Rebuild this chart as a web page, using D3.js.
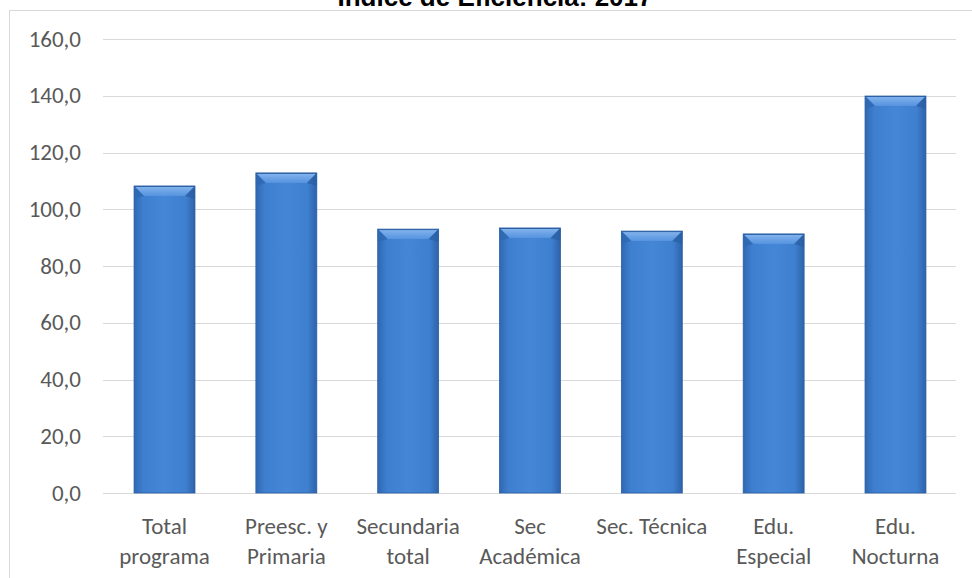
<!DOCTYPE html>
<html><head><meta charset="utf-8">
<script src="https://cdn.jsdelivr.net/npm/d3@7"></script>
<style>body{margin:0;background:#fff}svg{display:block}</style>
</head><body>
<script>
const categories = [["Total","programa"],["Preesc. y","Primaria"],["Secundaria","total"],["Sec","Académica"],["Sec. Técnica"],["Edu.","Especial"],["Edu.","Nocturna"]];
const values = [108.2, 112.8, 93.0, 93.4, 92.3, 91.3, 139.9];
const yTicks = [0,20,40,60,80,100,120,140,160];
const title = "Índice de Eficiencia: 2017";

const W=972,H=578;
const svg=d3.select("body").append("svg").attr("width",W).attr("height",H);
const defs=svg.append("defs");
const g1=defs.append("linearGradient").attr("id","side").attr("x1","0").attr("x2","1").attr("y1","0").attr("y2","0");
[[0,"#2f68b3"],[0.15,"#3f7fcf"],[0.5,"#4586d6"],[0.85,"#3f7fcf"],[1,"#2d62a9"]].forEach(s=>g1.append("stop").attr("offset",s[0]).attr("stop-color",s[1]));
const g2=defs.append("linearGradient").attr("id","top").attr("x1","0").attr("x2","0").attr("y1","0").attr("y2","1");
[[0,"#86b6ee"],[1,"#5592de"]].forEach(s=>g2.append("stop").attr("offset",s[0]).attr("stop-color",s[1]));

// border
svg.append("rect").attr("x",9.5).attr("y",10.5).attr("width",980).attr("height",600).attr("fill","none").attr("stroke","#d9d9d9");
svg.append("text").attr("x",495).attr("y",6).attr("text-anchor","middle").attr("font-family","Liberation Sans, Arial, sans-serif").attr("font-weight","bold").attr("font-size",26).attr("fill","#000").text(title);

const x=d3.scaleBand().domain(d3.range(categories.length)).range([103.6,956.4]).paddingInner(0.5).paddingOuter(0.25);
const y=d3.scaleLinear().domain([0,160]).range([493,39]);

const font="Carlito, Calibri, 'Open Sans', sans-serif";
const grid=svg.append("g");
yTicks.forEach(t=>{
  grid.append("line").attr("x1",103).attr("x2",956).attr("y1",Math.round(y(t))+0.5).attr("y2",Math.round(y(t))+0.5).attr("stroke","#d9d9d9").attr("stroke-width",1);
  svg.append("text").attr("x",81).attr("y",y(t)).attr("dy","0.33em").attr("text-anchor","end").attr("font-family",font).attr("font-size",23).attr("fill","#595959").text(d3.format(".1f")(t).replace(".",","));
});

const bw=x.bandwidth(), bev=10;
values.forEach((v,i)=>{
  const x0=x(i), y0=y(v), h=y(0)-y0;
  svg.append("rect").attr("x",x0).attr("y",y0).attr("width",bw).attr("height",h).attr("fill","url(#side)").attr("stroke","#2a5ea3").attr("stroke-width",0.8);
  svg.append("path").attr("d",`M${x0},${y0}L${x0+bw},${y0}L${x0+bw-bev},${y0+bev}L${x0+bev},${y0+bev}Z`).attr("fill","url(#top)");
  svg.append("path").attr("d",`M${x0},${y0}L${x0+bev},${y0+bev}L${x0},${y0+bev+3}Z`).attr("fill","#2e66b0").attr("opacity",0.7);
  svg.append("path").attr("d",`M${x0+bw},${y0}L${x0+bw-bev},${y0+bev}L${x0+bw},${y0+bev+3}Z`).attr("fill","#2a5ea3").attr("opacity",0.7);
  svg.append("line").attr("x1",x0).attr("x2",x0+bw).attr("y1",y0+0.5).attr("y2",y0+0.5).attr("stroke","#2a5ea3").attr("stroke-width",1);
  const lab=categories[i];
  lab.forEach((l,k)=>{
    svg.append("text").attr("x",x0+bw/2).attr("y",526+k*30).attr("dy","0.33em").attr("text-anchor","middle").attr("font-family",font).attr("font-size",23).attr("fill","#595959").text(l);
  });
});
</script>
</body></html>
